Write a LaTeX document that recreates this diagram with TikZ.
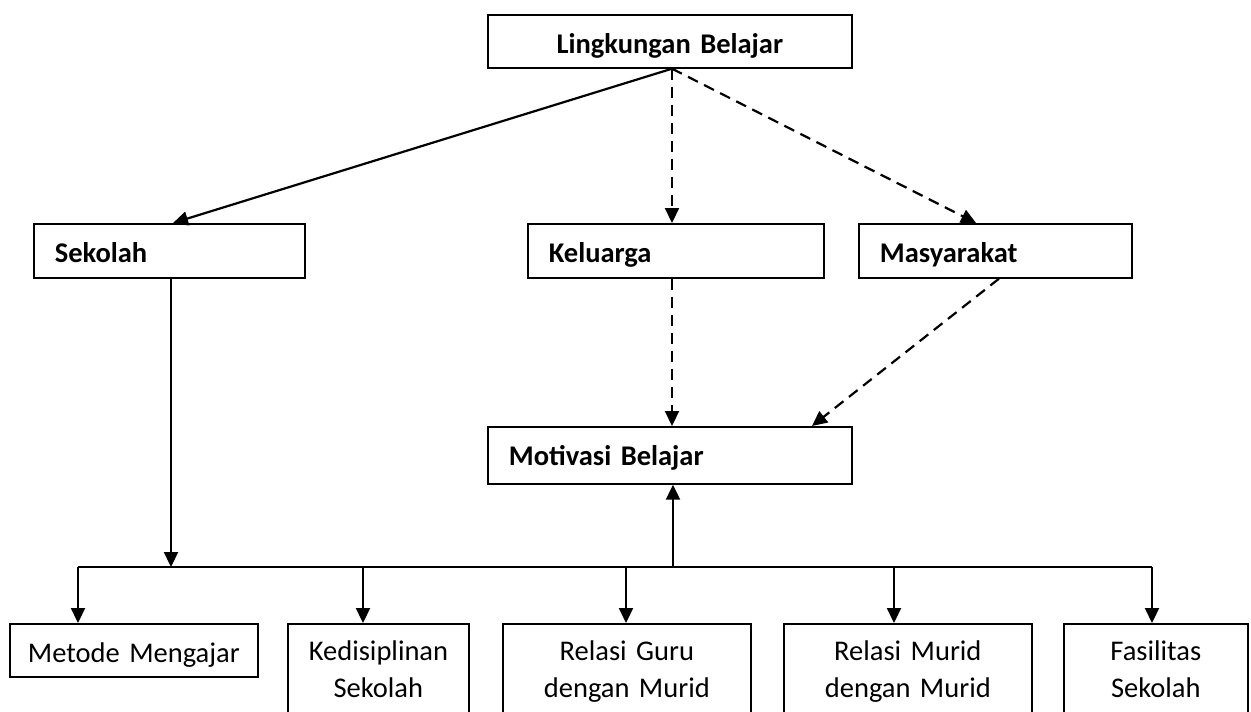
\documentclass[tikz,border=0pt]{standalone}
\usepackage{fontspec}
\setmainfont{Carlito}[WordSpace=0.8]
\usetikzlibrary{
	arrows.meta,
	calc,
	positioning,
}
\tikzset{box/.style={
	draw,
	rectangle,
	line width=1.7pt,
	inner xsep=21pt,
	inner ysep=0pt,
	anchor=north west,
	font=\fontsize{28.5}{37}\selectfont,
}}
\tikzset{mainbox/.style={
	box,
	align=left,
	text height=26pt,
	text depth=2pt,
	font=\fontsize{28.5}{37}\selectfont\bfseries,
}}
\tikzset{leafbox/.style={
	box,
	align=center,
	inner ysep=17pt,
}}
\tikzset{link/.style={line width=2.2pt, -{Triangle[length=15pt,width=14pt]}}}
\tikzset{dashlink/.style={link, dash pattern=on 11pt off 7pt}}

\begin{document}
\begin{tikzpicture}[x=1pt, y=-1pt]
\useasboundingbox (0,0) rectangle (1251,712);

\node[mainbox, align=center, text width=322pt, minimum height=53pt] (lingkungan) at (487,14) {Lingkungan Belajar};

\node[mainbox, text width=229pt, minimum height=54pt] (sekolah) at (33,223) {Sekolah};
\node[mainbox, text width=254pt, minimum height=54pt] (keluarga) at (527,223) {Keluarga};
\node[mainbox, text width=231pt, minimum height=54pt] (masyarakat) at (858,223) {Masyarakat};

\node[mainbox, text width=322pt, minimum height=57pt, text height=24pt, text depth=4pt] (motivasi) at (487,426) {Motivasi Belajar};

\node[leafbox, text width=236pt, inner xsep=6pt, inner ysep=0pt, text height=26pt, text depth=2pt, minimum height=53pt] (metode) at (9,623) {Metode Mengajar};
\node[leafbox, text width=139pt] (disiplin) at (287,623) {Kedisiplinan\\Sekolah};
\node[leafbox, text width=206pt] (guru) at (502,623) {Relasi Guru\\dengan Murid};
\node[leafbox, text width=206pt] (murid) at (783,623) {Relasi Murid\\dengan Murid};
\node[leafbox, text width=142pt] (fasilitas) at (1063,623) {Fasilitas\\Sekolah};

% dari lingkungan ke tiga lingkungan
\coordinate (src) at ([xshift=185pt]lingkungan.south west);
\draw[link] (src) -- ([xshift=140pt]sekolah.north west);
\draw[dashlink] (src) -- ([xshift=145pt]keluarga.north west);
\draw[dashlink] (src) -- ([xshift=118pt]masyarakat.north west);

\draw[dashlink] ([xshift=145pt]keluarga.south west) -- ([xshift=185pt]motivasi.north west);
\draw[dashlink] ([xshift=141pt]masyarakat.south west) -- ([xshift=325pt]motivasi.north west);

% garis cabang bawah
\coordinate (busL) at (78,567);
\coordinate (busR) at (1152,567);
\draw[line width=2.2pt] (busL) -- (busR);

\coordinate (sekolahfoot) at ([xshift=138pt]sekolah.south west);
\draw[link] (sekolahfoot) -- (sekolahfoot |- busL);

\coordinate (motivasifoot) at ([xshift=186pt]motivasi.south west);
\draw[link] (motivasifoot |- busL) -- (motivasifoot);

\foreach \leaf/\dx in {metode/69, disiplin/76, guru/124, murid/111, fasilitas/89}{
	\coordinate (top) at ($(\leaf.north west)+(\dx,0)$);
	\draw[link] (top |- busL) -- (top);
}
\end{tikzpicture}
\end{document}
